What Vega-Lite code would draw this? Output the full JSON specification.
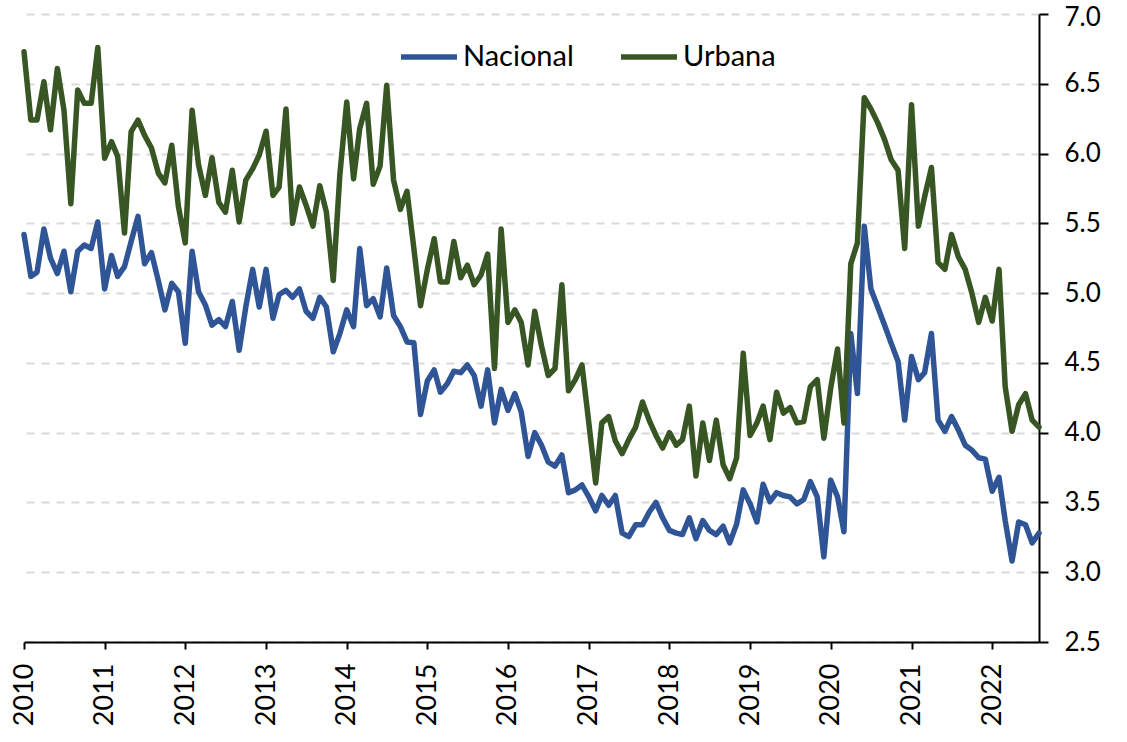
{
  "$schema": "https://vega.github.io/schema/vega-lite/v6.json",
  "width": 1015,
  "height": 628,
  "autosize": {"type": "none"},
  "padding": {"left": 24, "top": 14, "right": 88, "bottom": 100},
  "background": "white",
  "config": {
    "view": {"stroke": null},
    "font": "Lato"
  },
  "data": {
    "values": [
      {"d":"2010-01-01","s":"Nacional","v":5.42},{"d":"2010-02-01","s":"Nacional","v":5.12},{"d":"2010-03-01","s":"Nacional","v":5.15},{"d":"2010-04-01","s":"Nacional","v":5.46},{"d":"2010-05-01","s":"Nacional","v":5.25},{"d":"2010-06-01","s":"Nacional","v":5.14},{"d":"2010-07-01","s":"Nacional","v":5.30},{"d":"2010-08-01","s":"Nacional","v":5.01},{"d":"2010-09-01","s":"Nacional","v":5.30},{"d":"2010-10-01","s":"Nacional","v":5.345},{"d":"2010-11-01","s":"Nacional","v":5.32},{"d":"2010-12-01","s":"Nacional","v":5.51},
      {"d":"2011-01-01","s":"Nacional","v":5.03},{"d":"2011-02-01","s":"Nacional","v":5.27},{"d":"2011-03-01","s":"Nacional","v":5.12},{"d":"2011-04-01","s":"Nacional","v":5.19},{"d":"2011-05-01","s":"Nacional","v":5.37},{"d":"2011-06-01","s":"Nacional","v":5.55},{"d":"2011-07-01","s":"Nacional","v":5.21},{"d":"2011-08-01","s":"Nacional","v":5.29},{"d":"2011-09-01","s":"Nacional","v":5.09},{"d":"2011-10-01","s":"Nacional","v":4.88},{"d":"2011-11-01","s":"Nacional","v":5.07},{"d":"2011-12-01","s":"Nacional","v":5.01},
      {"d":"2012-01-01","s":"Nacional","v":4.64},{"d":"2012-02-01","s":"Nacional","v":5.30},{"d":"2012-03-01","s":"Nacional","v":5.01},{"d":"2012-04-01","s":"Nacional","v":4.915},{"d":"2012-05-01","s":"Nacional","v":4.77},{"d":"2012-06-01","s":"Nacional","v":4.81},{"d":"2012-07-01","s":"Nacional","v":4.76},{"d":"2012-08-01","s":"Nacional","v":4.94},{"d":"2012-09-01","s":"Nacional","v":4.59},{"d":"2012-10-01","s":"Nacional","v":4.90},{"d":"2012-11-01","s":"Nacional","v":5.17},{"d":"2012-12-01","s":"Nacional","v":4.90},
      {"d":"2013-01-01","s":"Nacional","v":5.17},{"d":"2013-02-01","s":"Nacional","v":4.82},{"d":"2013-03-01","s":"Nacional","v":4.99},{"d":"2013-04-01","s":"Nacional","v":5.02},{"d":"2013-05-01","s":"Nacional","v":4.97},{"d":"2013-06-01","s":"Nacional","v":5.03},{"d":"2013-07-01","s":"Nacional","v":4.87},{"d":"2013-08-01","s":"Nacional","v":4.82},{"d":"2013-09-01","s":"Nacional","v":4.97},{"d":"2013-10-01","s":"Nacional","v":4.90},{"d":"2013-11-01","s":"Nacional","v":4.58},{"d":"2013-12-01","s":"Nacional","v":4.71},
      {"d":"2014-01-01","s":"Nacional","v":4.88},{"d":"2014-02-01","s":"Nacional","v":4.76},{"d":"2014-03-01","s":"Nacional","v":5.32},{"d":"2014-04-01","s":"Nacional","v":4.91},{"d":"2014-05-01","s":"Nacional","v":4.96},{"d":"2014-06-01","s":"Nacional","v":4.83},{"d":"2014-07-01","s":"Nacional","v":5.18},{"d":"2014-08-01","s":"Nacional","v":4.84},{"d":"2014-09-01","s":"Nacional","v":4.76},{"d":"2014-10-01","s":"Nacional","v":4.65},{"d":"2014-11-01","s":"Nacional","v":4.645},{"d":"2014-12-01","s":"Nacional","v":4.13},
      {"d":"2015-01-01","s":"Nacional","v":4.37},{"d":"2015-02-01","s":"Nacional","v":4.45},{"d":"2015-03-01","s":"Nacional","v":4.29},{"d":"2015-04-01","s":"Nacional","v":4.35},{"d":"2015-05-01","s":"Nacional","v":4.44},{"d":"2015-06-01","s":"Nacional","v":4.43},{"d":"2015-07-01","s":"Nacional","v":4.485},{"d":"2015-08-01","s":"Nacional","v":4.41},{"d":"2015-09-01","s":"Nacional","v":4.19},{"d":"2015-10-01","s":"Nacional","v":4.45},{"d":"2015-11-01","s":"Nacional","v":4.07},{"d":"2015-12-01","s":"Nacional","v":4.31},
      {"d":"2016-01-01","s":"Nacional","v":4.16},{"d":"2016-02-01","s":"Nacional","v":4.28},{"d":"2016-03-01","s":"Nacional","v":4.15},{"d":"2016-04-01","s":"Nacional","v":3.83},{"d":"2016-05-01","s":"Nacional","v":4.00},{"d":"2016-06-01","s":"Nacional","v":3.91},{"d":"2016-07-01","s":"Nacional","v":3.79},{"d":"2016-08-01","s":"Nacional","v":3.76},{"d":"2016-09-01","s":"Nacional","v":3.84},{"d":"2016-10-01","s":"Nacional","v":3.57},{"d":"2016-11-01","s":"Nacional","v":3.59},{"d":"2016-12-01","s":"Nacional","v":3.625},
      {"d":"2017-01-01","s":"Nacional","v":3.54},{"d":"2017-02-01","s":"Nacional","v":3.44},{"d":"2017-03-01","s":"Nacional","v":3.55},{"d":"2017-04-01","s":"Nacional","v":3.48},{"d":"2017-05-01","s":"Nacional","v":3.55},{"d":"2017-06-01","s":"Nacional","v":3.28},{"d":"2017-07-01","s":"Nacional","v":3.255},{"d":"2017-08-01","s":"Nacional","v":3.34},{"d":"2017-09-01","s":"Nacional","v":3.34},{"d":"2017-10-01","s":"Nacional","v":3.43},{"d":"2017-11-01","s":"Nacional","v":3.50},{"d":"2017-12-01","s":"Nacional","v":3.39},
      {"d":"2018-01-01","s":"Nacional","v":3.30},{"d":"2018-02-01","s":"Nacional","v":3.28},{"d":"2018-03-01","s":"Nacional","v":3.27},{"d":"2018-04-01","s":"Nacional","v":3.39},{"d":"2018-05-01","s":"Nacional","v":3.24},{"d":"2018-06-01","s":"Nacional","v":3.37},{"d":"2018-07-01","s":"Nacional","v":3.30},{"d":"2018-08-01","s":"Nacional","v":3.27},{"d":"2018-09-01","s":"Nacional","v":3.33},{"d":"2018-10-01","s":"Nacional","v":3.21},{"d":"2018-11-01","s":"Nacional","v":3.345},{"d":"2018-12-01","s":"Nacional","v":3.59},
      {"d":"2019-01-01","s":"Nacional","v":3.49},{"d":"2019-02-01","s":"Nacional","v":3.36},{"d":"2019-03-01","s":"Nacional","v":3.63},{"d":"2019-04-01","s":"Nacional","v":3.505},{"d":"2019-05-01","s":"Nacional","v":3.57},{"d":"2019-06-01","s":"Nacional","v":3.55},{"d":"2019-07-01","s":"Nacional","v":3.54},{"d":"2019-08-01","s":"Nacional","v":3.49},{"d":"2019-09-01","s":"Nacional","v":3.52},{"d":"2019-10-01","s":"Nacional","v":3.65},{"d":"2019-11-01","s":"Nacional","v":3.54},{"d":"2019-12-01","s":"Nacional","v":3.11},
      {"d":"2020-01-01","s":"Nacional","v":3.66},{"d":"2020-02-01","s":"Nacional","v":3.54},{"d":"2020-03-01","s":"Nacional","v":3.29},{"d":"2020-04-01","s":"Nacional","v":4.71},{"d":"2020-05-01","s":"Nacional","v":4.28},{"d":"2020-06-01","s":"Nacional","v":5.48},{"d":"2020-07-01","s":"Nacional","v":5.03},{"d":"2020-08-01","s":"Nacional","v":4.90},{"d":"2020-09-01","s":"Nacional","v":4.77},{"d":"2020-10-01","s":"Nacional","v":4.64},{"d":"2020-11-01","s":"Nacional","v":4.51},{"d":"2020-12-01","s":"Nacional","v":4.09},
      {"d":"2021-01-01","s":"Nacional","v":4.545},{"d":"2021-02-01","s":"Nacional","v":4.38},{"d":"2021-03-01","s":"Nacional","v":4.43},{"d":"2021-04-01","s":"Nacional","v":4.71},{"d":"2021-05-01","s":"Nacional","v":4.09},{"d":"2021-06-01","s":"Nacional","v":4.01},{"d":"2021-07-01","s":"Nacional","v":4.115},{"d":"2021-08-01","s":"Nacional","v":4.02},{"d":"2021-09-01","s":"Nacional","v":3.91},{"d":"2021-10-01","s":"Nacional","v":3.875},{"d":"2021-11-01","s":"Nacional","v":3.82},{"d":"2021-12-01","s":"Nacional","v":3.81},
      {"d":"2022-01-01","s":"Nacional","v":3.58},{"d":"2022-02-01","s":"Nacional","v":3.68},{"d":"2022-03-01","s":"Nacional","v":3.37},{"d":"2022-04-01","s":"Nacional","v":3.08},{"d":"2022-05-01","s":"Nacional","v":3.36},{"d":"2022-06-01","s":"Nacional","v":3.34},{"d":"2022-07-01","s":"Nacional","v":3.21},{"d":"2022-08-01","s":"Nacional","v":3.28},
      {"d":"2010-01-01","s":"Urbana","v":6.73},{"d":"2010-02-01","s":"Urbana","v":6.24},{"d":"2010-03-01","s":"Urbana","v":6.24},{"d":"2010-04-01","s":"Urbana","v":6.515},{"d":"2010-05-01","s":"Urbana","v":6.17},{"d":"2010-06-01","s":"Urbana","v":6.61},{"d":"2010-07-01","s":"Urbana","v":6.31},{"d":"2010-08-01","s":"Urbana","v":5.64},{"d":"2010-09-01","s":"Urbana","v":6.455},{"d":"2010-10-01","s":"Urbana","v":6.36},{"d":"2010-11-01","s":"Urbana","v":6.36},{"d":"2010-12-01","s":"Urbana","v":6.76},
      {"d":"2011-01-01","s":"Urbana","v":5.966},{"d":"2011-02-01","s":"Urbana","v":6.085},{"d":"2011-03-01","s":"Urbana","v":5.98},{"d":"2011-04-01","s":"Urbana","v":5.43},{"d":"2011-05-01","s":"Urbana","v":6.157},{"d":"2011-06-01","s":"Urbana","v":6.24},{"d":"2011-07-01","s":"Urbana","v":6.13},{"d":"2011-08-01","s":"Urbana","v":6.04},{"d":"2011-09-01","s":"Urbana","v":5.86},{"d":"2011-10-01","s":"Urbana","v":5.79},{"d":"2011-11-01","s":"Urbana","v":6.06},{"d":"2011-12-01","s":"Urbana","v":5.62},
      {"d":"2012-01-01","s":"Urbana","v":5.36},{"d":"2012-02-01","s":"Urbana","v":6.31},{"d":"2012-03-01","s":"Urbana","v":5.92},{"d":"2012-04-01","s":"Urbana","v":5.70},{"d":"2012-05-01","s":"Urbana","v":5.97},{"d":"2012-06-01","s":"Urbana","v":5.65},{"d":"2012-07-01","s":"Urbana","v":5.58},{"d":"2012-08-01","s":"Urbana","v":5.88},{"d":"2012-09-01","s":"Urbana","v":5.51},{"d":"2012-10-01","s":"Urbana","v":5.81},{"d":"2012-11-01","s":"Urbana","v":5.89},{"d":"2012-12-01","s":"Urbana","v":5.99},
      {"d":"2013-01-01","s":"Urbana","v":6.16},{"d":"2013-02-01","s":"Urbana","v":5.70},{"d":"2013-03-01","s":"Urbana","v":5.76},{"d":"2013-04-01","s":"Urbana","v":6.32},{"d":"2013-05-01","s":"Urbana","v":5.50},{"d":"2013-06-01","s":"Urbana","v":5.76},{"d":"2013-07-01","s":"Urbana","v":5.63},{"d":"2013-08-01","s":"Urbana","v":5.48},{"d":"2013-09-01","s":"Urbana","v":5.77},{"d":"2013-10-01","s":"Urbana","v":5.58},{"d":"2013-11-01","s":"Urbana","v":5.09},{"d":"2013-12-01","s":"Urbana","v":5.85},
      {"d":"2014-01-01","s":"Urbana","v":6.37},{"d":"2014-02-01","s":"Urbana","v":5.82},{"d":"2014-03-01","s":"Urbana","v":6.18},{"d":"2014-04-01","s":"Urbana","v":6.36},{"d":"2014-05-01","s":"Urbana","v":5.78},{"d":"2014-06-01","s":"Urbana","v":5.91},{"d":"2014-07-01","s":"Urbana","v":6.49},{"d":"2014-08-01","s":"Urbana","v":5.81},{"d":"2014-09-01","s":"Urbana","v":5.60},{"d":"2014-10-01","s":"Urbana","v":5.73},{"d":"2014-11-01","s":"Urbana","v":5.32},{"d":"2014-12-01","s":"Urbana","v":4.91},
      {"d":"2015-01-01","s":"Urbana","v":5.17},{"d":"2015-02-01","s":"Urbana","v":5.39},{"d":"2015-03-01","s":"Urbana","v":5.08},{"d":"2015-04-01","s":"Urbana","v":5.08},{"d":"2015-05-01","s":"Urbana","v":5.37},{"d":"2015-06-01","s":"Urbana","v":5.11},{"d":"2015-07-01","s":"Urbana","v":5.20},{"d":"2015-08-01","s":"Urbana","v":5.06},{"d":"2015-09-01","s":"Urbana","v":5.13},{"d":"2015-10-01","s":"Urbana","v":5.28},{"d":"2015-11-01","s":"Urbana","v":4.46},{"d":"2015-12-01","s":"Urbana","v":5.46},
      {"d":"2016-01-01","s":"Urbana","v":4.79},{"d":"2016-02-01","s":"Urbana","v":4.88},{"d":"2016-03-01","s":"Urbana","v":4.79},{"d":"2016-04-01","s":"Urbana","v":4.485},{"d":"2016-05-01","s":"Urbana","v":4.87},{"d":"2016-06-01","s":"Urbana","v":4.62},{"d":"2016-07-01","s":"Urbana","v":4.41},{"d":"2016-08-01","s":"Urbana","v":4.46},{"d":"2016-09-01","s":"Urbana","v":5.06},{"d":"2016-10-01","s":"Urbana","v":4.30},{"d":"2016-11-01","s":"Urbana","v":4.38},{"d":"2016-12-01","s":"Urbana","v":4.485},
      {"d":"2017-01-01","s":"Urbana","v":4.07},{"d":"2017-02-01","s":"Urbana","v":3.64},{"d":"2017-03-01","s":"Urbana","v":4.07},{"d":"2017-04-01","s":"Urbana","v":4.115},{"d":"2017-05-01","s":"Urbana","v":3.94},{"d":"2017-06-01","s":"Urbana","v":3.85},{"d":"2017-07-01","s":"Urbana","v":3.95},{"d":"2017-08-01","s":"Urbana","v":4.04},{"d":"2017-09-01","s":"Urbana","v":4.22},{"d":"2017-10-01","s":"Urbana","v":4.09},{"d":"2017-11-01","s":"Urbana","v":3.98},{"d":"2017-12-01","s":"Urbana","v":3.89},
      {"d":"2018-01-01","s":"Urbana","v":4.00},{"d":"2018-02-01","s":"Urbana","v":3.91},{"d":"2018-03-01","s":"Urbana","v":3.95},{"d":"2018-04-01","s":"Urbana","v":4.19},{"d":"2018-05-01","s":"Urbana","v":3.69},{"d":"2018-06-01","s":"Urbana","v":4.07},{"d":"2018-07-01","s":"Urbana","v":3.80},{"d":"2018-08-01","s":"Urbana","v":4.09},{"d":"2018-09-01","s":"Urbana","v":3.77},{"d":"2018-10-01","s":"Urbana","v":3.67},{"d":"2018-11-01","s":"Urbana","v":3.82},{"d":"2018-12-01","s":"Urbana","v":4.57},
      {"d":"2019-01-01","s":"Urbana","v":3.98},{"d":"2019-02-01","s":"Urbana","v":4.07},{"d":"2019-03-01","s":"Urbana","v":4.19},{"d":"2019-04-01","s":"Urbana","v":3.95},{"d":"2019-05-01","s":"Urbana","v":4.29},{"d":"2019-06-01","s":"Urbana","v":4.14},{"d":"2019-07-01","s":"Urbana","v":4.18},{"d":"2019-08-01","s":"Urbana","v":4.07},{"d":"2019-09-01","s":"Urbana","v":4.08},{"d":"2019-10-01","s":"Urbana","v":4.33},{"d":"2019-11-01","s":"Urbana","v":4.38},{"d":"2019-12-01","s":"Urbana","v":3.96},
      {"d":"2020-01-01","s":"Urbana","v":4.32},{"d":"2020-02-01","s":"Urbana","v":4.60},{"d":"2020-03-01","s":"Urbana","v":4.07},{"d":"2020-04-01","s":"Urbana","v":5.21},{"d":"2020-05-01","s":"Urbana","v":5.36},{"d":"2020-06-01","s":"Urbana","v":6.40},{"d":"2020-07-01","s":"Urbana","v":6.32},{"d":"2020-08-01","s":"Urbana","v":6.22},{"d":"2020-09-01","s":"Urbana","v":6.10},{"d":"2020-10-01","s":"Urbana","v":5.955},{"d":"2020-11-01","s":"Urbana","v":5.88},{"d":"2020-12-01","s":"Urbana","v":5.32},
      {"d":"2021-01-01","s":"Urbana","v":6.35},{"d":"2021-02-01","s":"Urbana","v":5.48},{"d":"2021-03-01","s":"Urbana","v":5.69},{"d":"2021-04-01","s":"Urbana","v":5.90},{"d":"2021-05-01","s":"Urbana","v":5.22},{"d":"2021-06-01","s":"Urbana","v":5.17},{"d":"2021-07-01","s":"Urbana","v":5.42},{"d":"2021-08-01","s":"Urbana","v":5.26},{"d":"2021-09-01","s":"Urbana","v":5.17},{"d":"2021-10-01","s":"Urbana","v":5.00},{"d":"2021-11-01","s":"Urbana","v":4.79},{"d":"2021-12-01","s":"Urbana","v":4.97},
      {"d":"2022-01-01","s":"Urbana","v":4.80},{"d":"2022-02-01","s":"Urbana","v":5.17},{"d":"2022-03-01","s":"Urbana","v":4.33},{"d":"2022-04-01","s":"Urbana","v":4.01},{"d":"2022-05-01","s":"Urbana","v":4.20},{"d":"2022-06-01","s":"Urbana","v":4.28},{"d":"2022-07-01","s":"Urbana","v":4.09},{"d":"2022-08-01","s":"Urbana","v":4.04}
    ]
  },
  "mark": {"type": "line", "strokeWidth": 5.5, "strokeJoin": "round", "strokeCap": "round", "clip": false},
  "encoding": {
    "x": {
      "field": "d",
      "type": "temporal",
      "scale": {
        "type": "utc",
        "domain": [{"year": 2010, "month": 1, "date": 1, "utc": true}, {"year": 2022, "month": 8, "date": 1, "utc": true}],
        "nice": false
      },
      "axis": {
        "title": null,
        "format": "%Y",
        "tickCount": {"interval": "year", "step": 1},
        "labelAngle": -90,
        "labelAlign": "right",
        "labelBaseline": "middle",
        "labelFont": "Lato",
        "labelFontSize": 27,
        "labelColor": "#000000",
        "labelPadding": 14,
        "labelOverlap": false,
        "labelFlush": false,
        "grid": false,
        "domainColor": "#000000",
        "domainWidth": 2,
        "tickColor": "#000000",
        "tickWidth": 2,
        "tickSize": 7
      }
    },
    "y": {
      "field": "v",
      "type": "quantitative",
      "scale": {"domain": [2.5, 7.0], "nice": false, "zero": false},
      "axis": {
        "title": null,
        "orient": "right",
        "values": [2.5, 3.0, 3.5, 4.0, 4.5, 5.0, 5.5, 6.0, 6.5, 7.0],
        "format": ".1f",
        "labelFont": "Lato",
        "labelFontSize": 26,
        "labelColor": "#000000",
        "labelPadding": 16,
        "labelOffset": {"condition": {"test": "datum.value >= 7", "value": 3}, "value": 0},
        "labelFlush": false,
        "labelOverlap": false,
        "domainColor": "#000000",
        "domainWidth": 2,
        "tickColor": "#000000",
        "tickWidth": 2,
        "tickSize": 9,
        "grid": true,
        "gridColor": "#d9d9d9",
        "gridWidth": 2,
        "gridDash": [8, 7]
      }
    },
    "color": {
      "field": "s",
      "type": "nominal",
      "scale": {"domain": ["Nacional", "Urbana"], "range": ["#2F5597", "#375623"]},
      "legend": {
        "title": null,
        "orient": "none",
        "direction": "horizontal",
        "legendX": 374,
        "legendY": 12,
        "padding": 0,
        "symbolType": "stroke",
        "symbolSize": 3136,
        "symbolStrokeWidth": 5.5,
        "labelFont": "Lato",
        "labelFontSize": 29,
        "labelColor": "#000000",
        "labelOffset": 3,
        "columnPadding": 36
      }
    }
  }
}
